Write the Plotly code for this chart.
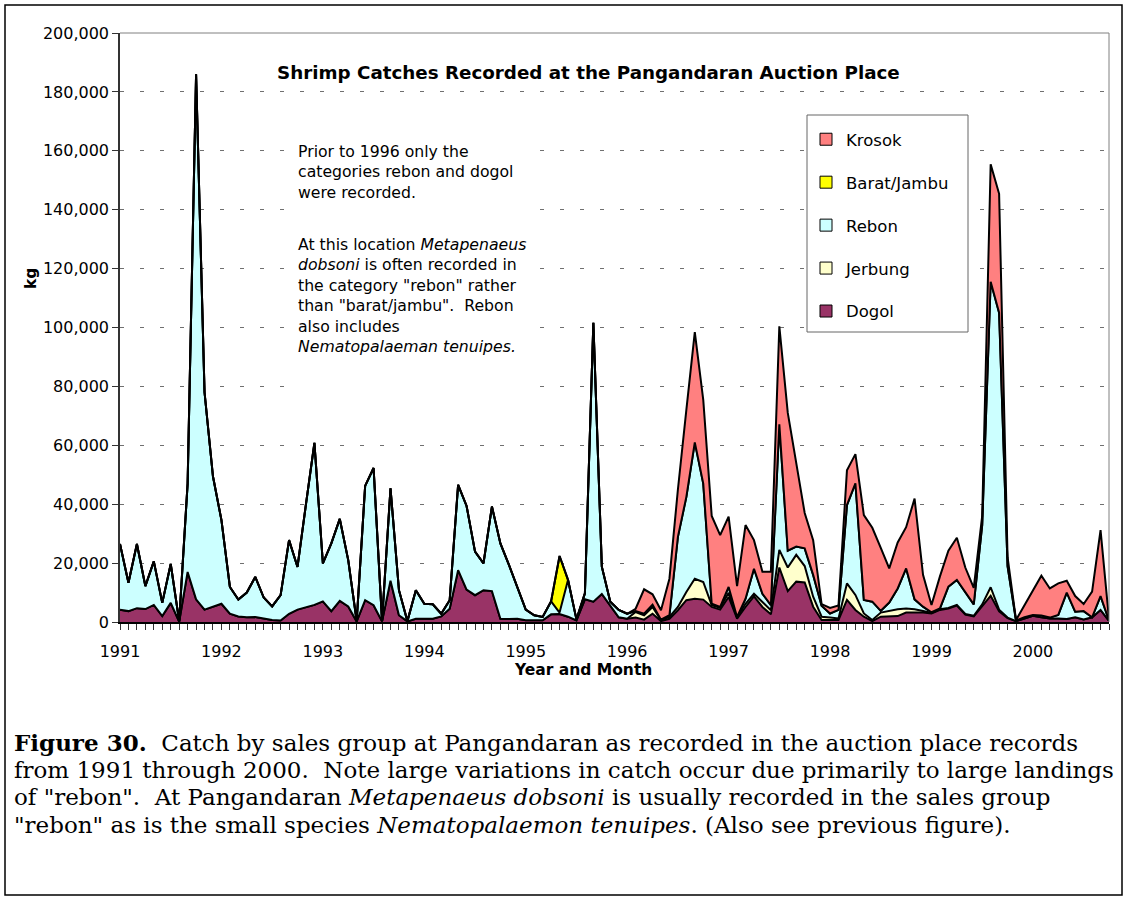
import plotly.graph_objects as go

# Monthly catches (kg) at Pangandaran, Jan 1991 - Oct 2000
start_year = 1991
n_months = 118

dogol = [
    4200, 3700, 4700, 4400, 5800, 2000, 6500, 100, 17000, 7700, 4200, 5100,
    6200, 2800, 1900, 1600, 1700, 1200, 700, 500, 2800, 4200, 4900, 5800,
    7000, 3700, 7200, 5300, 200, 7400, 5700, 200, 14000, 2300, 200, 1100,
    1100, 1100, 1900, 4500, 17600, 11000, 9100, 10800, 10500, 1100, 1000, 1100,
    600, 600, 600, 2600, 2700, 1800, 500, 7700, 6900, 9500, 5400, 1600,
    1100, 1500, 800, 2800, 300, 1100, 4000, 7400, 7900, 7600, 5100, 4200,
    8500, 1100, 5100, 8700, 5100, 2600, 18500, 10500, 13700, 13400, 5200, 700,
    700, 700, 7500, 4100, 1800, 300, 1800, 1800, 2000, 3200, 3200, 3200,
    2900, 4100, 4600, 5600, 2500, 1900, 5400, 8900, 3600, 1300, 300, 1200,
    2100, 1600, 1200, 1200, 1000, 1600, 900, 1600, 4100, 400,
]
jerbung = [0] * 61 + [
    1900, 1500, 2300, 300, 600, 1100, 2800, 6800, 6000, 600, 600,
    1400, 400, 1100, 900, 1700, 1400, 6000, 8000, 9100, 5600, 3400, 1100,
    800, 500, 5600, 5100, 1100, 400, 1400, 2000, 2300, 1400, 1100, 500,
    200, 200, 200, 200, 200, 200, 600, 2900, 600, 200,
] + [0] * 12
rebon = [
    22300, 9600, 21800, 7800, 14800, 4500, 13200, 200, 30000, 178300, 73800, 44300,
    28400, 9100, 5700, 8400, 13600, 7100, 4600, 8600, 25000, 14500, 35100, 55000,
    12900, 23000, 27800, 15700, 100, 38800, 46600, 100, 31400, 8500, 100, 9700,
    5100, 4900, 900, 2900, 29000, 28400, 14800, 9100, 28700, 25600, 18500, 10400,
    3600, 1700, 1100, 4400, 500, 12500, 400, 2000, 94700, 9300, 1500, 2500,
    1700, 300, 500, 800, 200, 600, 23800, 32300, 46300, 33400, 500, 300,
    2000, 200, 1700, 8500, 2800, 1700, 42600, 5700, 2800, 6000, 7400, 3700,
    1400, 2900, 26600, 37900, 4600, 6200, 600, 2800, 7100, 13600, 3400, 1500,
    200, 300, 7200, 8500, 7600, 3900, 27000, 103700, 100800, 17500, 200, 400,
    300, 600, 300, 1200, 9000, 1900, 2800, 0, 4700, 100,
]
barat_jambu = [0] * 52 + [19200] + [0] * 65
krosok = [0] * 61 + [
    800, 8300, 3500, 3200, 12400, 16100, 29500, 37400, 28400, 29800, 24400,
    23900, 10500, 25000, 9700, 7500, 11400, 33300, 46800, 28400, 12000, 11800, 600,
    1900, 1500, 11800, 9900, 28800, 25100, 21400, 11600, 15600, 14000, 34200, 10800,
    2500, 10900, 12200, 14300, 8200, 5600, 3000, 39900, 40400, 3000, 200, 4100,
    8500, 13500, 9900, 10700, 4000, 5300, 2400, 8700, 22400, 400,
]

x = [start_year + i / 12 for i in range(n_months)]

# bottom to top of the stack
series = [
    ("Dogol", dogol, "#993366"),
    ("Jerbung", jerbung, "#FFFFCC"),
    ("Rebon", rebon, "#CCFFFF"),
    ("Barat/Jambu", barat_jambu, "#FFFF00"),
    ("Krosok", krosok, "#FF8080"),
]

caption_lines = [
    "<b>Figure 30.</b>  Catch by sales group at Pangandaran as recorded in the auction place records",
    "from 1991 through 2000.  Note large variations in catch occur due primarily to large landings",
    "of \"rebon\".  At Pangandaran <i>Metapenaeus dobsoni</i> is usually recorded in the sales group",
    "\"rebon\" as is the small species <i>Nematopalaemon tenuipes</i>. (Also see previous figure).",
]

SANS = "DejaVu Sans"
SERIF = "DejaVu Serif"

fig = go.Figure()

for name, vals, col in series:
    fig.add_trace(go.Scatter(
        x=x, y=vals, name=name, mode="lines",
        stackgroup="one", fillcolor=col,
        line=dict(color="black", width=2),
        showlegend=False,
    ))

# legend entries (square swatches), top to bottom
for name, vals, col in reversed(series):
    fig.add_trace(go.Scatter(
        x=[None], y=[None], name=name, mode="markers",
        legendgroup=name,
        marker=dict(symbol="square", size=12, color=col,
                    line=dict(color="black", width=1)),
    ))

# plot area size in pixels
L, R, T, B = 120, 1109, 33, 622
W, H = 1128, 902
pw, ph = R - L, B - T


def px(xp):
    return (xp - L) / pw


def py(yp):
    return (B - yp) / ph


annotations = [
    dict(text="<b>Shrimp Catches Recorded at the Pangandaran Auction Place</b>",
         x=px(588), y=py(73), font=dict(size=18.3)),
    dict(text="Prior to 1996 only the<br>categories rebon and dogol<br>were recorded.",
         x=px(296), y=py(140), xanchor="left", yanchor="top", align="left",
         font=dict(size=15.7)),
    dict(text="At this location <i>Metapenaeus<br>dobsoni</i> is often recorded in<br>"
              "the category \"rebon\" rather<br>than \"barat/jambu\".  Rebon<br>"
              "also includes<br><i>Nematopalaeman tenuipes.</i>",
         x=px(296), y=py(233), xanchor="left", yanchor="top", align="left",
         font=dict(size=15.7)),
    dict(text="<b>Year and Month</b>", x=px(583), y=py(670), font=dict(size=15.5)),
    dict(text="<b>kg</b>", x=px(31), y=py(279), textangle=-90, font=dict(size=15.5)),
]
for k, line in enumerate(caption_lines):
    annotations.append(dict(
        text=line, x=px(12), y=py(742 + k * 27.7), xanchor="left",
        font=dict(family=SERIF, size=23, color="black"),
    ))
for a in annotations:
    a.setdefault("xref", "paper")
    a.setdefault("yref", "paper")
    a.setdefault("showarrow", False)
    a.setdefault("xanchor", "center")
    a.setdefault("yanchor", "middle")
    a.setdefault("font", dict(size=15.5))

shapes = [
    # white box behind the note text (hides gridlines)
    dict(type="rect", xref="paper", yref="paper", layer="above",
         x0=px(286), x1=px(538), y0=py(398), y1=py(132),
         fillcolor="white", line=dict(width=0)),
    # legend box
    dict(type="rect", xref="paper", yref="paper", layer="above",
         x0=px(807), x1=px(968), y0=py(332), y1=py(115),
         fillcolor="white", line=dict(color="#666666", width=1)),
    # plot frame top and right (grey)
    dict(type="line", xref="paper", yref="paper", x0=0, x1=1, y0=1, y1=1,
         line=dict(color="#808080", width=1)),
    dict(type="line", xref="paper", yref="paper", x0=1, x1=1, y0=0, y1=1,
         line=dict(color="#808080", width=1)),
    # outer border of the figure
    dict(type="rect", xref="paper", yref="paper",
         x0=px(5), x1=px(1122), y0=py(895), y1=py(5),
         line=dict(color="black", width=1.5)),
]

fig.update_layout(
    width=W, height=H, autosize=False,
    margin=dict(l=L, r=W - R, t=T, b=H - B, pad=0),
    paper_bgcolor="white", plot_bgcolor="white",
    font=dict(family=SANS, size=15.5, color="black"),
    showlegend=True,
    legend=dict(
        x=px(806), y=py(122), xanchor="left", yanchor="top",
        bgcolor="rgba(0,0,0,0)", borderwidth=0,
        font=dict(size=16.5), tracegroupgap=18.5,
        itemclick=False, itemdoubleclick=False,
    ),
    annotations=annotations,
    shapes=shapes,
    hovermode=False,
)

fig.update_xaxes(
    range=[start_year, start_year + (n_months - 1) / 12],
    tickmode="linear", tick0=start_year, dtick=1, tickformat="d",
    ticks="outside", ticklen=6, tickcolor="#333333",
    ticklabelstandoff=8,
    showline=True, linecolor="black", linewidth=1.5,
    showgrid=False, zeroline=False,
    minor=dict(tickmode="linear", tick0=start_year, dtick=1 / 12,
               ticks="outside", ticklen=6, tickcolor="#333333", showgrid=False),
    tickfont=dict(size=16),
)
fig.update_yaxes(
    range=[0, 200000], tickmode="linear", tick0=0, dtick=20000,
    tickformat=",d",
    ticks="outside", ticklen=6, tickcolor="#333333",
    showline=True, linecolor="#333333", linewidth=1.5,
    showgrid=True, gridcolor="#707070", gridwidth=1, griddash="4px,16px",
    zeroline=False,
    tickfont=dict(size=16),
)

# page body has a default 8px margin; remove it so the figure sits at (0, 0)
fig.write_html("out.html", config={"displayModeBar": False},
               post_script="document.body.style.margin='0px';")
